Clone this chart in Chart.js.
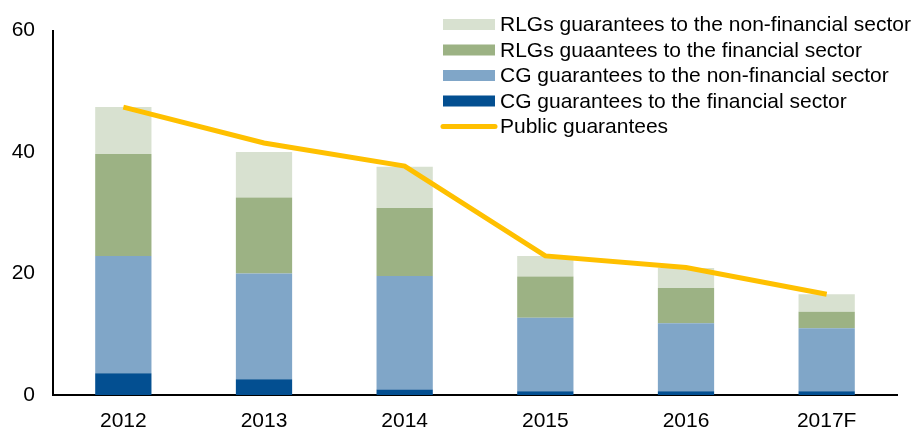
<!DOCTYPE html>
<html>
<head>
<meta charset="utf-8">
<script src="https://cdn.jsdelivr.net/npm/chart.js@4"></script>
<style>
  html, body { margin: 0; padding: 0; background: #fff; }
  #wrap { width: 920px; height: 429px; }
</style>
</head>
<body>
<div id="wrap"><canvas id="chart" width="920" height="429"></canvas></div>
<script>
// guarantees chart

const years = ['2012', '2013', '2014', '2015', '2016', '2017F'];
const yTicks = [0, 20, 40, 60];

const cgFinancial = [3.6, 2.6, 0.9, 0.6, 0.6, 0.6];
const cgNonFinancial = [19.3, 17.4, 18.7, 12.1, 11.2, 10.4];
const rlgFinancial = [16.8, 12.5, 11.2, 6.8, 5.8, 2.7];
const rlgNonFinancial = [7.7, 7.5, 6.8, 3.4, 3.3, 2.9];
const publicGuarantees = [47.4, 41.5, 37.7, 22.9, 21.0, 16.6];

const FONT = 'Liberation Sans, Arial, sans-serif';

// legend drawn inside plot area, top right
const legendPlugin = {
    id: 'insideLegend',
    afterDraw(chart) {
        const ctx = chart.ctx;
        const order = [4, 3, 2, 1, 0];
        ctx.save();
        ctx.font = '21px ' + FONT;
        ctx.textBaseline = 'middle';
        order.forEach((idx, i) => {
            const ds = chart.data.datasets[idx];
            const y = 24.5 + i * 25.5;
            if (ds.type === 'line') {
                ctx.strokeStyle = ds.borderColor;
                ctx.lineWidth = 5;
                ctx.lineCap = 'round';
                ctx.beginPath();
                ctx.moveTo(443, y);
                ctx.lineTo(495, y);
                ctx.stroke();
            } else {
                ctx.fillStyle = ds.backgroundColor;
                ctx.fillRect(443, y - 5.5, 52, 11);
            }
            ctx.fillStyle = '#000';
            ctx.fillText(ds.label, 500, y + 1);
        });
        ctx.restore();
    }
};

new Chart(document.getElementById('chart').getContext('2d'), {
    data: {
        labels: years,
        datasets: [
            {
                type: 'line',
                label: 'Public guarantees',
                data: publicGuarantees,
                borderColor: '#FFC000',
                borderWidth: 5,
                pointRadius: 0,
                tension: 0,
                order: 0,
                stack: 'line'
            },
            {
                type: 'bar',
                label: 'CG guarantees to the financial sector',
                data: cgFinancial,
                backgroundColor: '#034F91',
                order: 1
            },
            {
                type: 'bar',
                label: 'CG guarantees to the non-financial sector',
                data: cgNonFinancial,
                backgroundColor: '#80A6C8',
                order: 1
            },
            {
                type: 'bar',
                label: 'RLGs guaantees to the financial sector',
                data: rlgFinancial,
                backgroundColor: '#9CB284',
                order: 1
            },
            {
                type: 'bar',
                label: 'RLGs guarantees to the non-financial sector',
                data: rlgNonFinancial,
                backgroundColor: '#D8E1D0',
                order: 1
            }
        ]
    },
    options: {
        responsive: false,
        animation: false,
        layout: { padding: { top: 29, right: 23, left: 0, bottom: 0 } },
        datasets: {
            bar: { barPercentage: 0.4, categoryPercentage: 1, borderWidth: 0 }
        },
        plugins: {
            legend: { display: false },
            tooltip: { enabled: false }
        },
        scales: {
            x: {
                stacked: true,
                grid: { display: false, drawTicks: false },
                border: { color: '#000', width: 2 },
                ticks: { color: '#000', font: { family: FONT, size: 21 }, padding: 14, maxRotation: 0 },
                afterFit: (scale) => { scale.height = 34; }
            },
            y: {
                stacked: true,
                min: 0,
                max: 60,
                grid: { display: false, drawTicks: false },
                border: { color: '#000', width: 2 },
                afterBuildTicks: (scale) => { scale.ticks = yTicks.map(v => ({ value: v })); },
                ticks: { color: '#000', font: { family: FONT, size: 21 }, padding: 18 },
                afterFit: (scale) => { scale.width = 53; }
            }
        }
    },
    plugins: [legendPlugin]
});
</script>
</body>
</html>
